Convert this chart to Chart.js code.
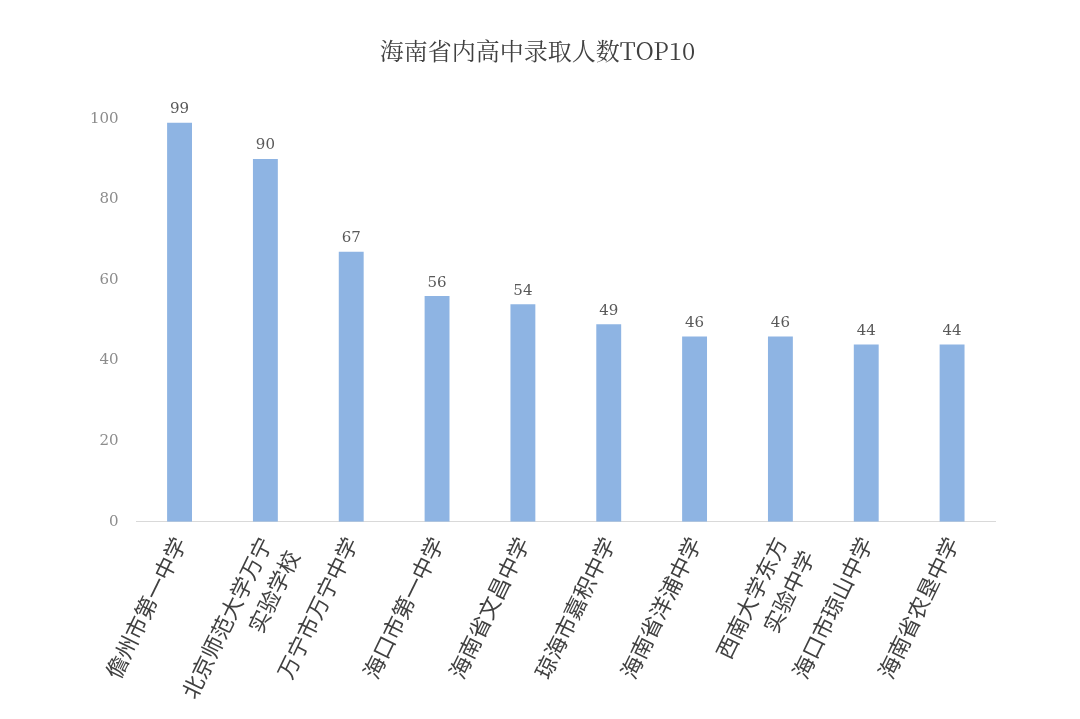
<!DOCTYPE html>
<html><head><meta charset="utf-8">
<script src="https://cdn.jsdelivr.net/npm/chart.js@4/dist/chart.umd.min.js"></script>
<style>html,body{margin:0;padding:0;background:#fff}#w{width:1080px;height:719px}</style>
</head><body><div id="w"><canvas id="c"></canvas></div>
<script>
const categories=["儋州市第一中学",["北京师范大学万宁","实验学校"],"万宁市万宁中学","海口市第一中学","海南省文昌中学","琼海市嘉积中学","海南省洋浦中学",["西南大学东方","实验中学"],"海口市琼山中学","海南省农垦中学"];
const values=[99,90,67,56,54,49,46,46,44,44];
const yTicks=[0,20,40,60,80,100];
const labelPlugin={id:'lbl',afterDatasetsDraw(ch){const ctx=ch.ctx;const m=ch.getDatasetMeta(0);ctx.save();ctx.font='15px "DejaVu Serif"';ctx.fillStyle='#595959';ctx.textAlign='center';ctx.textBaseline='bottom';m.data.forEach((b,i)=>ctx.fillText(values[i],b.x,b.y-6));ctx.restore();}};
new Chart(document.getElementById('c'),{type:'bar',data:{labels:categories,datasets:[{data:values,backgroundColor:'#8EB4E3',barPercentage:0.29,categoryPercentage:1}]},
options:{responsive:true,maintainAspectRatio:false,animation:false,
layout:{padding:{left:80,right:85,top:10,bottom:0}},
plugins:{legend:{display:false},tooltip:{enabled:false},title:{display:true,text:'海南省内高中录取人数TOP10',font:{family:'"Noto Serif CJK SC","Noto Sans CJK SC"',size:24,weight:'normal'},color:'#404040',padding:{top:26,bottom:54}}},
scales:{y:{min:0,max:100,afterBuildTicks(a){a.ticks=yTicks.map(v=>({value:v}));},grid:{display:false},border:{display:false},ticks:{color:'#8c8c8c',font:{family:'"DejaVu Serif"',size:15},padding:10}},
x:{grid:{display:false},border:{color:'#d9d9d9'},ticks:{color:'#404040',font:{family:'"Noto Sans CJK SC"',size:22,lineHeight:1.4},maxRotation:64,minRotation:64,autoSkip:false,padding:2}}}},
plugins:[labelPlugin]});
</script></body></html>
